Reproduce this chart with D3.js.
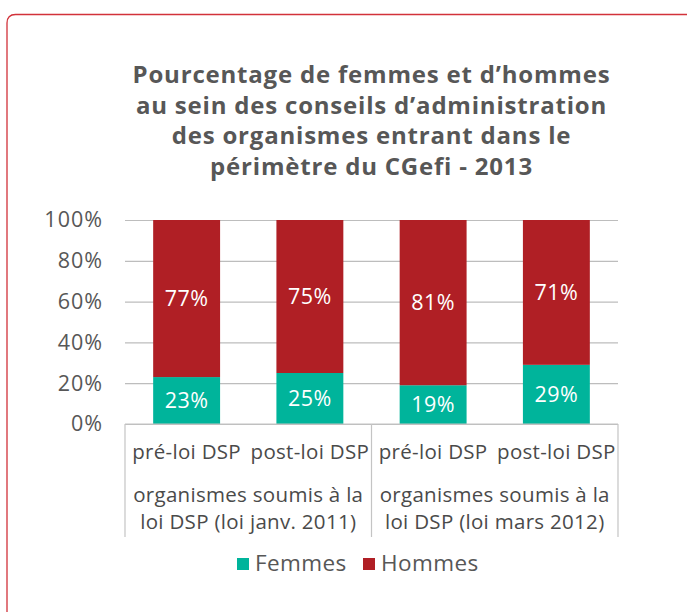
<!DOCTYPE html>
<html><head><meta charset="utf-8">
<script src="https://cdn.jsdelivr.net/npm/d3@7"></script>
<style>
html,body{margin:0;padding:0;background:#fff;}
svg{display:block;}
text{font-family:"Open Sans",sans-serif;}
</style></head>
<body><svg id="c" width="687" height="612"></svg>
<script>
const titleLines = ["Pourcentage de femmes et d’hommes","au sein des conseils d’administration","des organismes entrant dans le","périmètre du CGefi - 2013"];
const categories = ["pré-loi DSP","post-loi DSP","pré-loi DSP","post-loi DSP"];
const groupLabels = [["organismes soumis à la","loi DSP (loi janv. 2011)"],["organismes soumis à la","loi DSP (loi mars 2012)"]];
const femmes = [23,25,19,29];
const hommes = [77,75,81,71];
const yTicks = [0,20,40,60,80,100];
const seriesNames = ["Femmes","Hommes"];
const colors = ["#00b49b","#b01f25"];

const svg = d3.select("#c");
const textCol = "#575757";

// card
svg.append("path")
  .attr("d","M7,612 L7,23 Q7,14.5 15.5,14.5 L700,14.5")
  .attr("fill","none").attr("stroke","#d2323a").attr("stroke-width",1.3);

const L=125, R=618, T=220, B=424;
const x = d3.scaleBand().domain(d3.range(categories.length)).range([L,R]).paddingInner(0.457).paddingOuter(0.2285);
const y = d3.scaleLinear().domain([0,100]).range([B,T]);

// title
const tt = svg.append("text").attr("text-anchor","middle").attr("fill",textCol)
  .attr("font-weight",700).attr("font-size",24).attr("letter-spacing",0.8);
titleLines.forEach((l,i)=>tt.append("tspan").attr("x",(L+R)/2).attr("y",83+i*30.5).text(l));

// gridlines
const yAxis = d3.axisLeft(y).tickValues(yTicks).tickFormat(d=>d+"%").tickSize(-(R-L)).tickPadding(22);
const ga = svg.append("g").attr("transform",`translate(${L},0)`).call(yAxis);
ga.select(".domain").remove();
ga.selectAll(".tick line").attr("stroke","#bdbdbd").attr("stroke-width",1.2);
ga.selectAll(".tick text").attr("fill",textCol).attr("font-size",21.5).attr("letter-spacing",1)
  .attr("font-family","'Open Sans',sans-serif");

// stacked bars
const stackData = categories.map((c,i)=>({i, Femmes:femmes[i], Hommes:hommes[i]}));
const stack = d3.stack().keys(seriesNames)(stackData);
const gb = svg.append("g");
stack.forEach((s,si)=>{
  gb.selectAll(null).data(s).enter().append("rect")
    .attr("x",d=>x(d.data.i)).attr("width",x.bandwidth())
    .attr("y",d=>y(d[1])).attr("height",d=>y(d[0])-y(d[1]))
    .attr("fill",colors[si]);
  gb.selectAll(null).data(s).enter().append("text")
    .attr("x",d=>x(d.data.i)+x.bandwidth()/2)
    .attr("y",d=>(y(d[0])+y(d[1]))/2)
    .attr("dy","0.36em").attr("text-anchor","middle").attr("fill","#fff")
    .attr("font-size",21.5).attr("letter-spacing",0.5).text(d=>(d[1]-d[0])+"%");
});

// category axis box
const boxB = 537;
const gx = svg.append("g").attr("stroke","#c4c4c4").attr("stroke-width",1.2);
gx.append("line").attr("x1",L).attr("x2",R).attr("y1",B).attr("y2",B);
const groupEdges = [L, x(2)-x.step()*x.paddingInner()/2, R];
groupEdges.forEach(e=>gx.append("line").attr("x1",e).attr("x2",e).attr("y1",B).attr("y2",boxB));

svg.append("g").selectAll("text").data(categories).enter().append("text")
  .attr("x",(d,i)=>x(i)+x.bandwidth()/2).attr("y",459)
  .attr("text-anchor","middle").attr("fill","#4a4a4a").attr("font-size",20.5).attr("letter-spacing",0.3).text(d=>d);

groupLabels.forEach((g,gi)=>{
  const cx=(groupEdges[gi]+groupEdges[gi+1])/2;
  g.forEach((l,li)=>svg.append("text").attr("x",cx).attr("y",502+li*26.5)
    .attr("text-anchor","middle").attr("fill","#4a4a4a").attr("font-size",20.5).attr("letter-spacing",0.3).text(l));
});

// legend
const leg = svg.append("g");
const legX = [237, 363];
seriesNames.forEach((n,i)=>{
  leg.append("rect").attr("x",legX[i]).attr("y",558).attr("width",12).attr("height",12).attr("fill",colors[i]);
  leg.append("text").attr("x",legX[i]+18).attr("y",571).attr("fill",textCol).attr("font-size",22.5).attr("letter-spacing",0.4).text(n);
});
</script></body></html>
